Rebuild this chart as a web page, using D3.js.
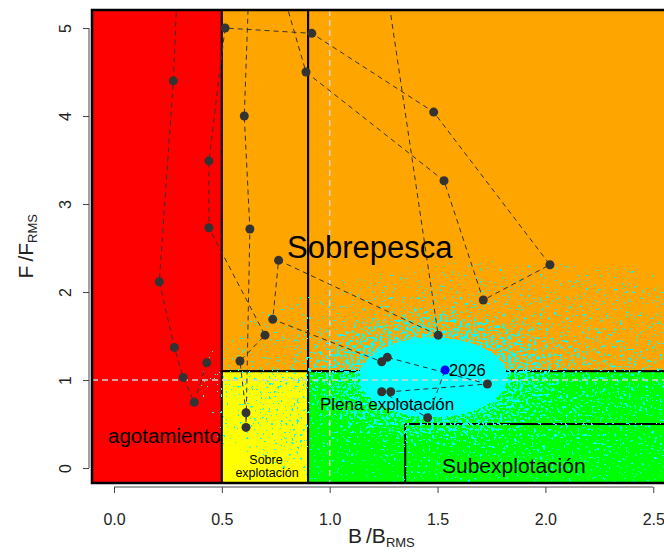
<!DOCTYPE html>
<html>
<head>
<meta charset="utf-8">
<script src="https://cdn.jsdelivr.net/npm/d3@7"></script>
<style>
  body { margin: 0; background: #fff; }
  text { font-family: "Liberation Sans", Arial, sans-serif; }
</style>
</head>
<body>
<svg id="chart" width="664" height="558"></svg>
<script>
// --- data ---
const xTicks = [0, 0.5, 1, 1.5, 2, 2.5];
const yTicks = [0, 1, 2, 3, 4, 5];

// status zones (B/BRMS, F/FRMS)
const zoneB0 = [-0.5, 0.5, 0.9, 0.5, 0.9];
const zoneB1 = [0.5, 0.9, 3.0, 0.9, 3.0];
const zoneF0 = [-1, 1.1, 1.1, -1, -1];
const zoneF1 = [7, 7, 7, 1.1, 1.1];
const zoneKind = ["agot", "sobre", "sobre", "sobreexp", "subexp"];

// extra limit lines
const limB0 = [1.35, 1.35];
const limB1 = [1.35, 3.0];
const limF0 = [-1, 0.5];
const limF1 = [0.5, 0.5];

// projection cloud for 2026: broad spread, left lobe, dense core
const cloudB = [1.85, 0.85, 1.48];
const cloudF = [0.95, 0.75, 1.03];
const cloudRB = [1.45, 0.45, 0.62];
const cloudRF = [1.40, 0.75, 0.82];

// trajectory
const years = [1992, 1993, 1994, 1995, 1996, 1997, 1998, 1999, 2000, 2001,
  2002, 2003, 2004, 2005, 2006, 2007, 2008, 2009, 2010, 2011, 2012, 2013,
  2014, 2015, 2016, 2017, 2018, 2019, 2020, 2021, 2022, 2023, 2024, 2025, 2026];
const trajB = [0.43, 0.372, 0.321, 0.28, 0.21, 0.275, 0.31, 0.63, 0.604, 0.63,
  0.612, 0.612, 0.584, 0.70, 0.44, 0.44, 0.515, 0.917, 1.482, 2.021, 1.712, 1.53,
  0.89, 0.76, 1.25, 1.503, 0.763, 0.736, 1.241, 1.267, 1.731, 1.283, 1.241, 1.454, 1.535];
const trajF = [1.197, 0.747, 1.03, 1.37, 2.117, 4.40, 6.4, 5.8, 4.0, 2.716,
  0.462, 0.628, 1.216, 1.51, 2.73, 3.49, 5.0, 4.94, 4.045, 2.31, 1.909, 3.265,
  4.50, 5.6, 5.7, 1.51, 2.36, 1.69, 1.208, 1.258, 0.955, 0.867, 0.867, 0.572, 1.114];

// --- styles ---
const zoneColor = { agot: "#ff0000", sobre: "#ffa500", sobreexp: "#ffff00", subexp: "#00ff00" };
// density falloff of each cloud ellipse (offset, opacity)
const cloudStops = [
  [[0, 0.55], [0.3, 0.45], [0.55, 0.3], [0.7, 0.22], [0.85, 0.14], [1, 0.02]],
  [[0, 0.12], [0.7, 0.08], [1, 0]],
  [[0, 1], [0.55, 1], [0.8, 0.6], [1, 0]],
];

const svg = d3.select("svg#chart");
const pLeft = 92, pRight = 675, pTop = 10, pBottom = 483;

const x = d3.scaleLinear().domain([-0.102, 2.6]).range([pLeft, pLeft + 2.702 * 215.7]);
const y = d3.scaleLinear().domain([-0.17, 5.205]).range([pBottom, pTop]);

const defs = svg.append("defs");
defs.append("clipPath").attr("id", "plot")
  .append("rect")
  .attr("x", pLeft).attr("y", pTop)
  .attr("width", pRight - pLeft).attr("height", pBottom - pTop);

cloudStops.forEach(function (stops, i) {
  const g = defs.append("radialGradient").attr("id", "dens" + i);
  stops.forEach(function (s) {
    g.append("stop")
      .attr("offset", s[0])
      .attr("stop-color", "#00ffff")
      .attr("stop-opacity", s[1]);
  });
});

// speckle texture: density -> scattered cyan pixels
const f = defs.append("filter")
  .attr("id", "speckle")
  .attr("filterUnits", "userSpaceOnUse")
  .attr("x", pLeft).attr("y", pTop)
  .attr("width", pRight - pLeft).attr("height", pBottom - pTop)
  .attr("color-interpolation-filters", "sRGB");
f.append("feTurbulence")
  .attr("type", "fractalNoise")
  .attr("baseFrequency", 0.35)
  .attr("numOctaves", 2)
  .attr("seed", 3)
  .attr("result", "noise");
f.append("feColorMatrix")
  .attr("in", "noise")
  .attr("type", "matrix")
  .attr("values", "0 0 0 0 0  0 0 0 0 0  0 0 0 0 0  4 0 0 0 -2")
  .attr("result", "n");
f.append("feComposite")
  .attr("in", "SourceGraphic")
  .attr("in2", "n")
  .attr("operator", "arithmetic")
  .attr("k1", 0).attr("k2", 1).attr("k3", 1).attr("k4", -0.5)
  .attr("result", "sum");
const ct = f.append("feComponentTransfer").attr("in", "sum").attr("result", "mask");
ct.append("feFuncA").attr("type", "discrete").attr("tableValues", "0 1");
// keep specks only inside the cloud shapes
f.append("feComposite")
  .attr("in", "mask").attr("in2", "SourceGraphic")
  .attr("operator", "in").attr("result", "mask2");
const ct2 = f.append("feComponentTransfer").attr("in", "mask2").attr("result", "mask3");
ct2.append("feFuncA").attr("type", "linear").attr("slope", 1000).attr("intercept", 0);
f.append("feFlood").attr("flood-color", "#00ffff").attr("result", "cy");
f.append("feComposite").attr("in", "cy").attr("in2", "mask3").attr("operator", "in");

const plot = svg.append("g").attr("clip-path", "url(#plot)");

// zones
plot.selectAll("rect.zone")
  .data(zoneKind)
  .enter()
  .append("rect")
  .attr("class", "zone")
  .attr("x", (d, i) => x(zoneB0[i]))
  .attr("y", (d, i) => y(zoneF1[i]))
  .attr("width", (d, i) => x(zoneB1[i]) - x(zoneB0[i]))
  .attr("height", (d, i) => y(zoneF0[i]) - y(zoneF1[i]))
  .attr("fill", (d) => zoneColor[d])
  .attr("stroke", "#000")
  .attr("stroke-width", 2);

plot.selectAll("line.lim")
  .data(limB0)
  .enter()
  .append("line")
  .attr("class", "lim")
  .attr("x1", (d, i) => x(limB0[i]))
  .attr("x2", (d, i) => x(limB1[i]))
  .attr("y1", (d, i) => y(limF0[i]))
  .attr("y2", (d, i) => y(limF1[i]))
  .attr("stroke", "#000")
  .attr("stroke-width", 2);

// projection cloud
plot.append("g")
  .attr("filter", "url(#speckle)")
  .selectAll("ellipse")
  .data(cloudB)
  .enter()
  .append("ellipse")
  .attr("cx", (d) => x(d))
  .attr("cy", (d, i) => y(cloudF[i]))
  .attr("rx", (d, i) => x(cloudRB[i]) - x(0))
  .attr("ry", (d, i) => y(0) - y(cloudRF[i]))
  .attr("fill", (d, i) => "url(#dens" + i + ")");

// reference lines at 1
plot.append("line")
  .attr("x1", x(1)).attr("x2", x(1))
  .attr("y1", pTop).attr("y2", pBottom)
  .attr("stroke", "#d3d3d3").attr("stroke-width", 1.5)
  .attr("stroke-dasharray", "6,4");
plot.append("line")
  .attr("x1", pLeft).attr("x2", pRight)
  .attr("y1", y(1)).attr("y2", y(1))
  .attr("stroke", "#d3d3d3").attr("stroke-width", 1.5)
  .attr("stroke-dasharray", "6,4");

// trajectory
const line = d3.line()
  .x((d) => x(trajB[d]))
  .y((d) => y(trajF[d]));
plot.append("path")
  .attr("d", line(years.map((d, i) => i)))
  .attr("fill", "none")
  .attr("stroke", "#333")
  .attr("stroke-width", 1)
  .attr("stroke-dasharray", "5,4");

const last = years.length - 1;
plot.selectAll("circle.yr")
  .data(years)
  .enter()
  .append("circle")
  .attr("class", "yr")
  .attr("cx", (d, i) => x(trajB[i]))
  .attr("cy", (d, i) => y(trajF[i]))
  .attr("r", 4.5)
  .attr("fill", (d, i) => (i === last ? "#0000ff" : "#333"));

plot.append("text")
  .attr("x", x(trajB[last]) + 4)
  .attr("y", y(trajF[last]) + 6)
  .attr("font-size", 16.5)
  .attr("fill", "#000")
  .text(years[last]);

// zone labels
plot.append("text").attr("x", 287).attr("y", 258).attr("font-size", 31).text("Sobrepesca");
plot.append("text").attr("x", 108).attr("y", 443).attr("font-size", 20.5).text("agotamiento");
plot.append("text").attr("x", 320).attr("y", 410).attr("font-size", 17).text("Plena explotación");
plot.append("text").attr("x", 442).attr("y", 473).attr("font-size", 21).text("Subexplotación");
const sobre = plot.append("text").attr("font-size", 12.5).attr("text-anchor", "middle");
sobre.append("tspan").attr("x", 266).attr("y", 464).text("Sobre");
sobre.append("tspan").attr("x", 267).attr("y", 477).text("explotación");

// plot border
svg.append("rect")
  .attr("x", pLeft).attr("y", pTop)
  .attr("width", pRight - pLeft + 10).attr("height", pBottom - pTop)
  .attr("fill", "none")
  .attr("stroke", "#000")
  .attr("stroke-width", 2.5);

// axes
const xAxis = svg.append("g")
  .attr("transform", "translate(0,487)")
  .call(d3.axisBottom(x).tickValues(xTicks).tickFormat(d3.format(".1f")).tickSize(6).tickSizeOuter(0));
xAxis.select(".domain").remove();
xAxis.append("line")
  .attr("x1", x(xTicks[0])).attr("x2", x(xTicks[xTicks.length - 1]))
  .attr("stroke", "#444");
xAxis.selectAll(".tick line").attr("stroke", "#444");
xAxis.selectAll("text")
  .attr("y", 38).attr("dy", 0)
  .attr("font-size", 16)
  .attr("fill", "#222")
  .style("font-family", "'Liberation Sans', Arial, sans-serif");

const yAxis = svg.append("g")
  .attr("transform", "translate(89,0)")
  .call(d3.axisLeft(y).tickValues(yTicks).tickFormat(d3.format("d")).tickSize(6).tickSizeOuter(0));
yAxis.select(".domain").remove();
yAxis.append("line")
  .attr("y1", y(yTicks[0])).attr("y2", y(yTicks[yTicks.length - 1]))
  .attr("stroke", "#444");
yAxis.selectAll(".tick line").attr("stroke", "#444");
yAxis.selectAll("text")
  .attr("x", 0).attr("dy", 0)
  .attr("transform", "translate(-18,0) rotate(-90)")
  .attr("text-anchor", "middle")
  .attr("font-size", 16)
  .attr("fill", "#222")
  .style("font-family", "'Liberation Sans', Arial, sans-serif");

// axis titles
const xt = svg.append("text").attr("x", 348).attr("y", 543).attr("font-size", 21).attr("fill", "#222");
xt.append("tspan").text("B");
xt.append("tspan").attr("dx", 4).text("/");
xt.append("tspan").text("B");
xt.append("tspan").attr("font-size", 13).attr("dy", 4).text("RMS");

const yt = svg.append("text")
  .attr("transform", "translate(33,214) rotate(-90)")
  .attr("text-anchor", "end")
  .attr("font-size", 21).attr("fill", "#222");
yt.append("tspan").text("F");
yt.append("tspan").attr("dx", 4).text("/");
yt.append("tspan").text("F");
yt.append("tspan").attr("font-size", 13).attr("dy", 4).text("RMS");
</script>
</body>
</html>
